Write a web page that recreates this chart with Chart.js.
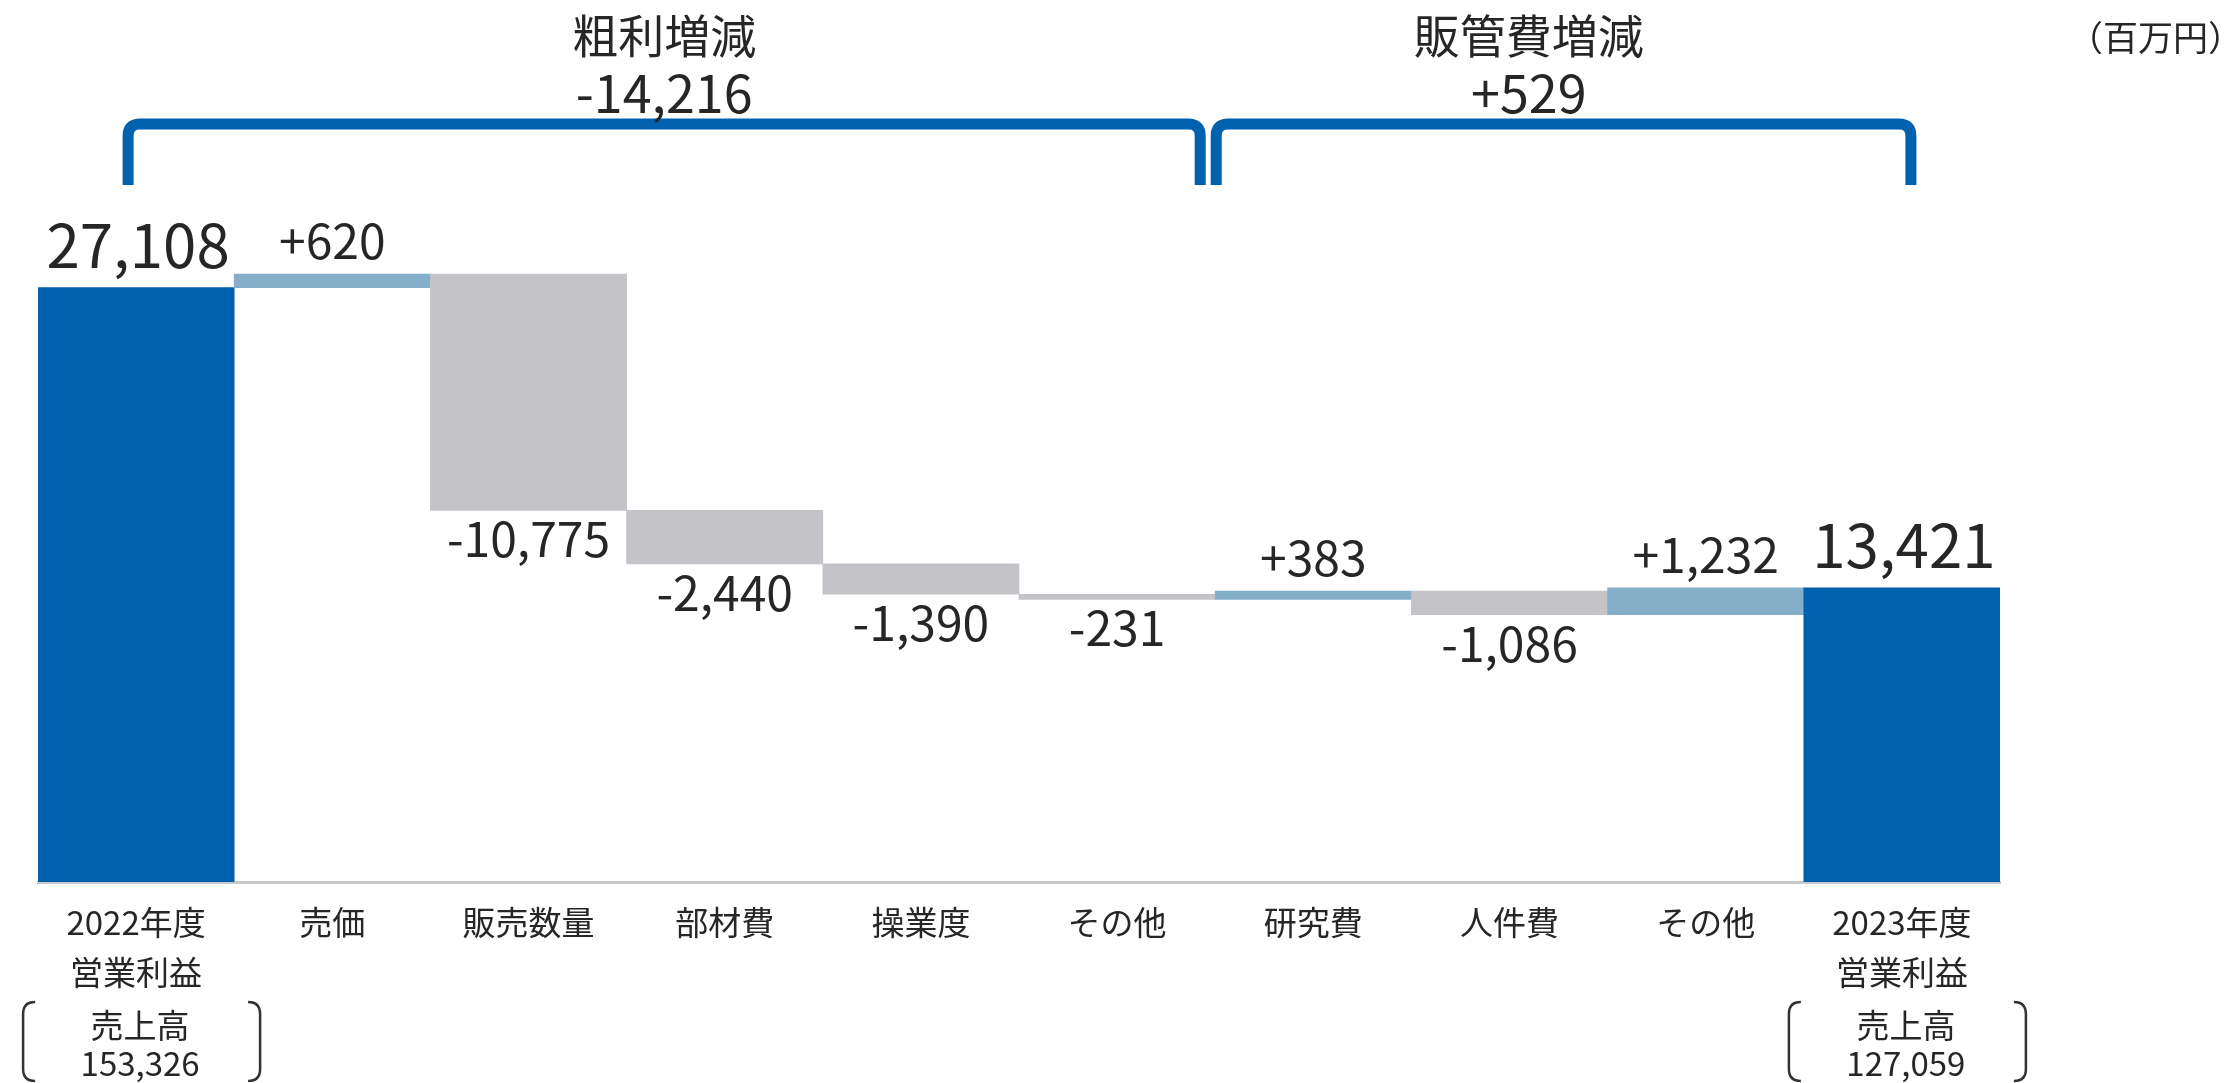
<!DOCTYPE html>
<html lang="ja">
<head>
<meta charset="UTF-8">
<title>営業利益 増減要因</title>
<script src="https://cdn.jsdelivr.net/npm/chart.js@4.4.0/dist/chart.umd.min.js"></script>
<style>
  html, body { margin: 0; padding: 0; background: #ffffff; }
  #wrap { width: 2227px; height: 1083px; }
</style>
</head>
<body>
<div id="wrap"><canvas id="waterfall" width="2227" height="1083"></canvas></div>
<script>
// データ (百万円)
const categories = [
    ['2022年度', '営業利益'], '売価', '販売数量', '部材費', '操業度', 'その他',
    '研究費', '人件費', 'その他', ['2023年度', '営業利益']
];
const startProfit = 27108;          // 2022年度 営業利益
const changes = [620, -10775, -2440, -1390, -231, 383, -1086, 1232];
const endProfit = 13421;            // 2023年度 営業利益
const salesLabels = ['153,326', '127,059'];   // 売上高 (2022, 2023)
const groupTitles = ['粗利増減', '販管費増減'];
const groupValues = ['-14,216', '+529'];
const unitLabel = '（百万円）';

const FONT = "'Noto Sans CJK JP', 'Noto Sans', sans-serif";
const COLOR_TOTAL = '#0061ae';
const COLOR_UP = '#85aec9';
const COLOR_DOWN = '#c4c3c8';
const TEXT = '#262626';

// 積み上げ位置を計算 (フローティングバー)
const ranges = [[0, startProfit]];
const colors = [COLOR_TOTAL];
let running = startProfit;
changes.forEach(c => {
    ranges.push([running, running + c]);
    colors.push(c >= 0 ? COLOR_UP : COLOR_DOWN);
    running += c;
});
ranges.push([0, endProfit]);
colors.push(COLOR_TOTAL);

function fmt(n) {
    return n.toLocaleString('en-US');
}
function fmtSigned(n) {
    return (n >= 0 ? '+' : '-') + Math.abs(n).toLocaleString('en-US');
}

// 値ラベル・括弧・見出しを描くプラグイン
const decorPlugin = {
    id: 'decor',
    afterDatasetsDraw(chart) {
        const ctx = chart.ctx;
        const meta = chart.getDatasetMeta(0);
        const x = chart.scales.x;
        ctx.save();
        ctx.fillStyle = TEXT;
        ctx.textAlign = 'center';

        // バーの値ラベル
        meta.data.forEach((bar, i) => {
            const top = Math.min(bar.y, bar.base);
            const bottom = Math.max(bar.y, bar.base);
            ctx.textBaseline = 'alphabetic';
            if (i === 0 || i === meta.data.length - 1) {
                ctx.font = `60px ${FONT}`;
                const v = i === 0 ? startProfit : endProfit;
                ctx.fillText(fmt(v), bar.x + 2, top - 20);
            } else {
                const c = changes[i - 1];
                ctx.font = `48px ${FONT}`;
                if (c >= 0) {
                    ctx.fillText(fmtSigned(c), bar.x, top - 15);
                } else {
                    ctx.fillText(fmtSigned(c), bar.x, bottom + 47);
                }
            }
        });

        // 売上高 (括弧付き)
        [0, categories.length - 1].forEach((idx, k) => {
            const cx = x.getPixelForValue(idx);
            ctx.font = `33px ${FONT}`;
            ctx.textBaseline = 'middle';
            ctx.fillText('売上高', cx + 4, 1025);
            ctx.textBaseline = 'alphabetic';
            ctx.fillText(salesLabels[k], cx + 4, 1076);

            ctx.strokeStyle = '#333333';
            ctx.lineWidth = 2.5;
            const l = cx - 113, r = cx + 124, t = 1002, b = 1081, rr = 12;
            ctx.beginPath();
            ctx.moveTo(l + rr, t);
            ctx.quadraticCurveTo(l, t, l, t + rr);
            ctx.lineTo(l, b - rr);
            ctx.quadraticCurveTo(l, b, l + rr, b);
            ctx.moveTo(r - rr, t);
            ctx.quadraticCurveTo(r, t, r, t + rr);
            ctx.lineTo(r, b - rr);
            ctx.quadraticCurveTo(r, b, r - rr, b);
            ctx.stroke();
        });

        // グループの大括弧
        const half = (x.getPixelForValue(1) - x.getPixelForValue(0)) / 2;
        const split = x.getPixelForValue(5) + half;
        const spans = [
            [x.getPixelForValue(0) - 8, split - 15],
            [split + 1, x.getPixelForValue(categories.length - 1) + 9]
        ];
        ctx.strokeStyle = COLOR_TOTAL;
        ctx.lineWidth = 11;
        ctx.lineJoin = 'round';
        spans.forEach(([a, b]) => {
            const yTop = 124, yBot = 185, rad = 12;
            ctx.beginPath();
            ctx.moveTo(a, yBot);
            ctx.lineTo(a, yTop + rad);
            ctx.quadraticCurveTo(a, yTop, a + rad, yTop);
            ctx.lineTo(b - rad, yTop);
            ctx.quadraticCurveTo(b, yTop, b, yTop + rad);
            ctx.lineTo(b, yBot);
            ctx.stroke();
        });

        // 見出し
        const titleX = [
            (spans[0][0] + spans[0][1]) / 2,
            spans[1][0] + (spans[1][1] - spans[1][0]) * 0.45
        ];
        ctx.fillStyle = TEXT;
        titleX.forEach((tx, k) => {
            ctx.font = `46px ${FONT}`;
            ctx.textBaseline = 'middle';
            ctx.fillText(groupTitles[k], tx, 36);
            ctx.font = `52px ${FONT}`;
            ctx.textBaseline = 'alphabetic';
            ctx.fillText(groupValues[k], tx, 113);
        });

        // 単位
        ctx.font = `35px ${FONT}`;
        ctx.textAlign = 'right';
        ctx.textBaseline = 'middle';
        ctx.fillText(unitLabel, 2243, 38);
        ctx.restore();
    }
};

const ctx = document.getElementById('waterfall').getContext('2d');
new Chart(ctx, {
    type: 'bar',
    data: {
        labels: categories,
        datasets: [{
            data: ranges,
            backgroundColor: colors,
            borderWidth: 0,
            borderSkipped: false,
            barPercentage: 1,
            categoryPercentage: 1
        }]
    },
    options: {
        responsive: false,
        animation: false,
        devicePixelRatio: 1,
        layout: { padding: { left: 38, right: 227, top: 130, bottom: 71 } },
        plugins: {
            legend: { display: false },
            tooltip: { enabled: false }
        },
        scales: {
            x: {
                grid: { display: false, drawTicks: false },
                border: { display: true, color: '#c8c8cc', width: 3 },
                ticks: {
                    color: TEXT,
                    padding: 15,
                    maxRotation: 0,
                    autoSkip: false,
                    font: { family: FONT, size: 33, lineHeight: 50 / 33 }
                }
            },
            y: {
                display: false,
                min: 0,
                max: 34300
            }
        }
    },
    plugins: [decorPlugin]
});
</script>
</body>
</html>
